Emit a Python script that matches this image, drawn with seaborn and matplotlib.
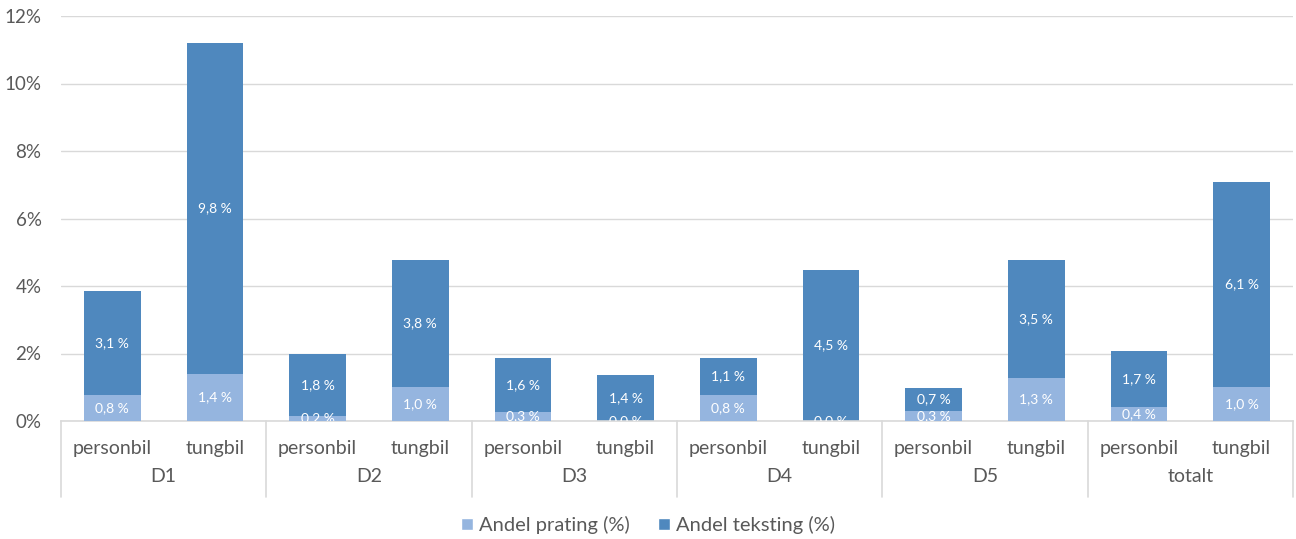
import matplotlib
matplotlib.use("Agg")
import matplotlib.pyplot as plt
import matplotlib.transforms as mtransforms
from matplotlib.patches import Patch
import seaborn as sns
import pandas as pd
import numpy as np

groups = ["D1", "D2", "D3", "D4", "D5", "totalt"]
vehicles = ["personbil", "tungbil"]
prating = [0.76, 1.40, 0.16, 1.00, 0.26, 0.00, 0.78, 0.00, 0.30, 1.27, 0.42, 1.00]
teksting = [3.10, 9.80, 1.82, 3.78, 1.60, 1.35, 1.10, 4.48, 0.68, 3.50, 1.66, 6.08]
yticks = [0, 2, 4, 6, 8, 10, 12]

light = "#95B5DF"
dark = "#4F88BE"
gray_txt = "#595959"
grid_c = "#D9D9D9"

keys = [f"{g} {v}" for g in groups for v in vehicles]
df = pd.DataFrame({
    "key": keys,
    "group": [g for g in groups for v in vehicles],
    "vehicle": [v for g in groups for v in vehicles],
    "prating": prating,
    "teksting": teksting,
})
df["total"] = df["prating"] + df["teksting"]

sns.set_theme(style="white")
plt.rcParams["font.family"] = ["Lato", "DejaVu Sans"]

fig = plt.figure(figsize=(12.96, 5.39), dpi=100)
ax = fig.add_axes([61 / 1296, 1 - 421 / 539, 1232 / 1296, 405 / 539])

sns.barplot(data=df, x="key", y="total", order=keys, color=dark, width=0.55,
            saturation=1, ax=ax, zorder=2, edgecolor="none", linewidth=0)
sns.barplot(data=df, x="key", y="prating", order=keys, color=light, width=0.55,
            saturation=1, ax=ax, zorder=3, edgecolor="none", linewidth=0)

ax.set_ylim(0, 12)
ax.set_xlim(-0.5, len(keys) - 0.5)
ax.set_yticks(yticks)
ax.set_yticklabels([f"{t}%" for t in yticks], color=gray_txt, fontsize=13.5)
ax.yaxis.grid(True, color=grid_c, linewidth=1, zorder=0)
ax.set_axisbelow(True)
for s in ["top", "right", "left"]:
    ax.spines[s].set_visible(False)
ax.spines["bottom"].set_color(grid_c)
ax.spines["bottom"].set_linewidth(1.2)
ax.tick_params(axis="y", length=0, pad=14)
ax.tick_params(axis="x", length=0, pad=14)
ax.set_xticks(range(len(keys)))
ax.set_xticklabels(df["vehicle"], color=gray_txt, fontsize=14)
ax.set_xlabel("")
ax.set_ylabel("")

def fmt(v):
    return f"{v:.1f} %".replace(".", ",")

for i, row in df.iterrows():
    ax.text(i, row["prating"] / 2, fmt(row["prating"]), ha="center", va="center",
            color="white", fontsize=10, clip_on=True, zorder=5)
    ax.text(i, row["prating"] + row["teksting"] / 2, fmt(row["teksting"]),
            ha="center", va="center", color="white", fontsize=10, clip_on=True, zorder=5)

# group separators and labels
trans = mtransforms.blended_transform_factory(ax.transData, ax.transAxes)
bottom_frac = -(497 - 421) / 405
for b in np.arange(-0.5, len(keys), 2):
    ax.plot([b, b], [0, bottom_frac], transform=trans, color=grid_c,
            linewidth=1.2, clip_on=False)
for j, g in enumerate(groups):
    ax.text(2 * j + 0.5, -(477 - 421) / 405, g, transform=trans, ha="center",
            va="center", color=gray_txt, fontsize=14)

handles = [Patch(facecolor=light, label="Andel prating (%)"),
           Patch(facecolor=dark, label="Andel teksting (%)")]
fig.legend(handles=handles, loc="center", bbox_to_anchor=(0.5, 1 - 525 / 539),
           ncol=2, frameon=False, fontsize=14.5, handlelength=0.6, handleheight=0.6,
           handletextpad=0.3, columnspacing=1.4, labelcolor=gray_txt)

fig.savefig("out.png", dpi=100)
